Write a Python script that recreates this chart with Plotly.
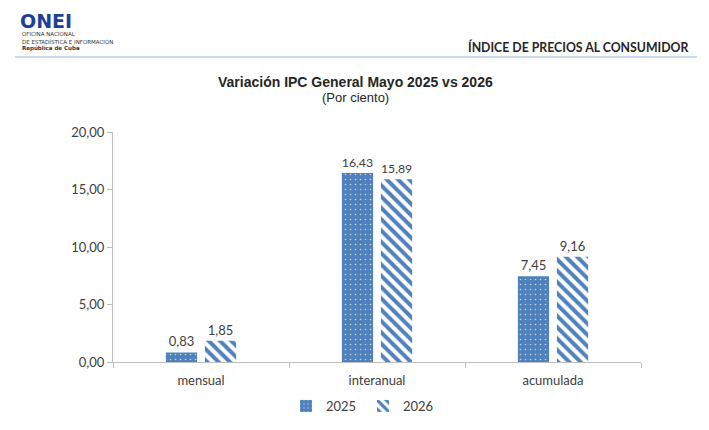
import plotly.graph_objects as go

categorias = ["mensual", "interanual", "acumulada"]
valores_2025 = [0.83, 16.43, 7.45]
valores_2026 = [1.85, 15.89, 9.16]
ticks_y = [0, 5, 10, 15, 20]

azul = "#4F81BD"
gris_texto = "#404040"

# the page body adds an 8px margin, so the figure starts at (8, 8) in the window
OFF = 8
W, H = 709 - OFF, 430
L, R, T, B = 113 - OFF, 641 - OFF, 132 - OFF, 362 - OFF


def px(x):
    return (x - OFF - L) / (R - L)


def py(y):
    return (B - (y - OFF)) / (B - T)


def etiquetas(vals):
    return [f"{v:.2f}".replace(".", ",") for v in vals]


fig = go.Figure()
fig.add_trace(go.Bar(
    name="2025", x=categorias, y=valores_2025,
    text=etiquetas(valores_2025), textposition="outside",
    textfont=dict(size=13, color=gris_texto), cliponaxis=False,
    marker=dict(color=azul, line=dict(width=0),
                pattern=dict(shape=".", fgcolor="#c6d6ea", bgcolor=azul,
                             size=5, solidity=0.08, fillmode="replace")),
))
fig.add_trace(go.Bar(
    name="2026", x=categorias, y=valores_2026,
    text=etiquetas(valores_2026), textposition="outside",
    textfont=dict(size=13, color=gris_texto), cliponaxis=False,
    marker=dict(color="white", line=dict(width=0),
                pattern=dict(shape="\\", fgcolor=azul, bgcolor="white",
                             size=8, solidity=0.5, fillmode="replace")),
))

fig.update_layout(
    width=W, height=H,
    margin=dict(l=L, r=W - R, t=T, b=H - B),
    paper_bgcolor="white", plot_bgcolor="white",
    font=dict(family="Lato, Open Sans, sans-serif", size=13, color=gris_texto),
    barmode="group", bargap=0.556, bargroupgap=0.2,
    separators=",.",
    showlegend=True,
    legend=dict(orientation="h", x=px(363), xanchor="center", y=py(406), yanchor="middle",
                font=dict(size=13, color=gris_texto), itemwidth=30,
                entrywidth=32, traceorder="normal"),
    xaxis=dict(showline=True, linecolor="#bfbfbf", linewidth=1,
               ticks="outside", tickson="boundaries", ticklen=5, tickcolor="#bfbfbf",
               ticklabelstandoff=6,
               tickfont=dict(size=13, color=gris_texto), showgrid=False),
    yaxis=dict(range=[0, 20], tickvals=ticks_y, tickformat=".2f",
               showline=True, linecolor="#bfbfbf", linewidth=1,
               ticks="outside", ticklen=5, tickcolor="#bfbfbf",
               tickfont=dict(size=13, color=gris_texto), showgrid=False,
               zeroline=False),
)

# encabezado
fig.add_shape(type="line", xref="paper", yref="paper",
              x0=px(15), x1=px(697), y0=py(57), y1=py(57),
              line=dict(color="#95b3d7", width=1))

anot = [
    dict(text="<b>Variación IPC General Mayo 2025 vs 2026</b>", x=px(355), y=py(82),
         font=dict(family="Liberation Sans, Arial", size=14, color="#262626")),
    dict(text="(Por ciento)", x=px(355), y=py(97),
         font=dict(family="Liberation Sans, Arial", size=13, color="#262626")),
    dict(text="<b>ÍNDICE DE PRECIOS AL CONSUMIDOR</b>", x=px(690), y=py(47), xanchor="right",
         font=dict(family="Lato, sans-serif", size=12.3, color="#262626")),
    dict(text="<b>ONEI</b>", x=px(18), y=py(21), xanchor="left",
         font=dict(family="DejaVu Sans", size=19, color="#1f3f96")),
    dict(text="OFICINA NACIONAL", x=px(20), y=py(34), xanchor="left",
         font=dict(family="DejaVu Sans", size=5.5, color="#333333")),
    dict(text="DE ESTADÍSTICA E INFORMACIÓN", x=px(20), y=py(41), xanchor="left",
         font=dict(family="DejaVu Sans", size=5.5, color="#333333")),
    dict(text="<b>República de Cuba</b>", x=px(20), y=py(48), xanchor="left",
         font=dict(family="DejaVu Sans", size=5.5, color="#333333")),
]
for a in anot:
    fig.add_annotation(xref="paper", yref="paper", showarrow=False,
                       xanchor=a.pop("xanchor", "center"),
                       yanchor=a.pop("yanchor", "middle"), **a)

fig.write_html("out.html")
